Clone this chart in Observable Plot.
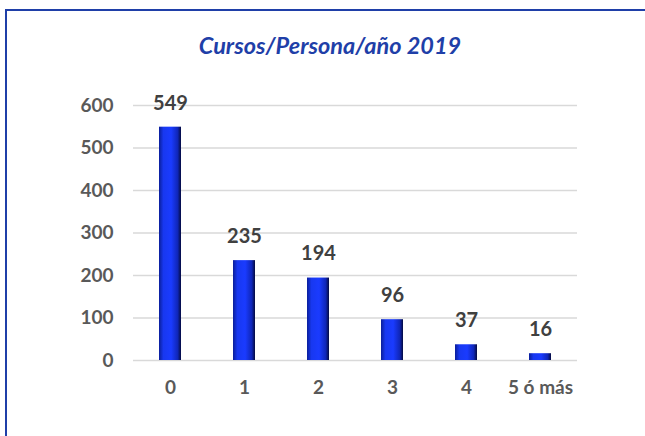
<!DOCTYPE html>
<html>
<head>
<meta charset="utf-8">
<script src="https://cdn.jsdelivr.net/npm/d3@7"></script>
<script src="https://cdn.jsdelivr.net/npm/@observablehq/plot@0.6"></script>
<style>
  html, body { margin: 0; padding: 0; background: #fff; overflow: hidden; }
  #frame { position: absolute; left: 5px; top: 9px; width: 700px; height: 500px; border: 2px solid #1F3FA8; box-sizing: border-box; }
  #title { position: absolute; left: 0; width: 660px; top: 31px; text-align: center; font-family: Lato, sans-serif; font-weight: bold; font-style: italic; font-size: 23.5px; color: #1F3FA8; }
  #chart { position: absolute; left: 0; top: 0; }
</style>
</head>
<body>
<div id="frame"></div>
<div id="title">Cursos/Persona/año 2019</div>
<div id="chart"></div>
<script>
const categories = ["0", "1", "2", "3", "4", "5 ó más"];
const values = [549, 235, 194, 96, 37, 16];
const yTicks = [0, 100, 200, 300, 400, 500, 600];

const data = categories.map((c, i) => ({cat: c, value: values[i]}));

const plot = Plot.plot({
  width: 645,
  height: 436,
  marginLeft: 133,
  marginRight: 68,
  marginTop: 105,
  marginBottom: 76,
  style: {fontFamily: "Lato, sans-serif", fontWeight: "bold", fontSize: "19px", color: "#595959", background: "transparent"},
  x: {domain: categories, paddingInner: 0.7, paddingOuter: 0.35, label: null, tickSize: 0, tickPadding: 20},
  y: {domain: [0, 600], ticks: yTicks, label: null, tickSize: 0, tickPadding: 20},
  marks: [
    Plot.ruleY(yTicks, {stroke: "#d9d9d9", strokeWidth: 1.5}),
    Plot.barY(data, {x: "cat", y: "value", fill: "url(#barGrad)"}),
    Plot.text(data, {x: "cat", y: "value", text: d => String(d.value), dy: -24, fontSize: 20, fontWeight: "bold", fill: "#404040"})
  ]
});

const svg = d3.select(plot);
const defs = svg.insert("defs", ":first-child");
const g = defs.append("linearGradient").attr("id", "barGrad").attr("x1", "0").attr("x2", "1").attr("y1", "0").attr("y2", "0");
g.append("stop").attr("offset", "0%").attr("stop-color", "#0A1E9A");
g.append("stop").attr("offset", "20%").attr("stop-color", "#1838F0");
g.append("stop").attr("offset", "55%").attr("stop-color", "#1A3BFF");
g.append("stop").attr("offset", "85%").attr("stop-color", "#0F26B8");
g.append("stop").attr("offset", "100%").attr("stop-color", "#040A40");

document.getElementById("chart").appendChild(plot);
</script>
</body>
</html>
